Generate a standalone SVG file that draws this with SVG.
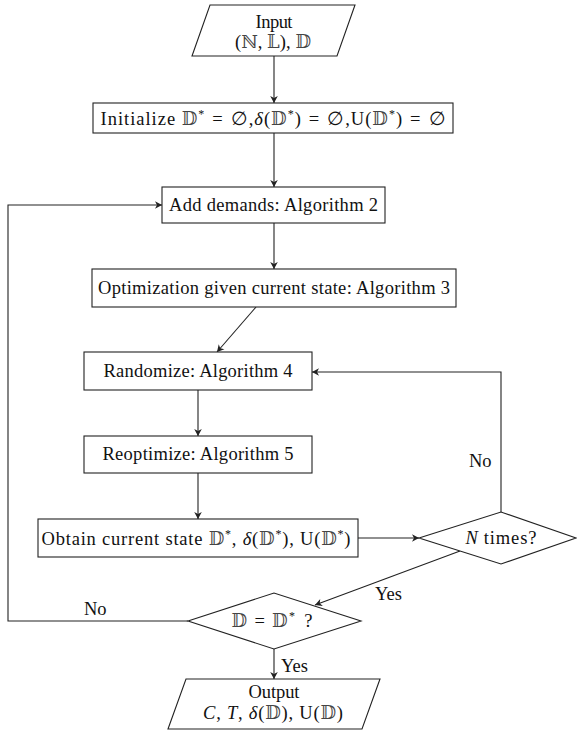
<svg xmlns="http://www.w3.org/2000/svg" width="577" height="732" viewBox="0 0 577 732">
<style>
.shape{fill:#fff;stroke:#222;stroke-width:1.1}
.conn{fill:none;stroke:#222;stroke-width:1.1}
text{font-family:"Liberation Serif","Times New Roman",serif;font-size:18.5px;fill:#111;text-anchor:middle}
.lbl{text-anchor:start}
.m{font-family:"DejaVu Serif","DejaVu Sans",serif;font-size:18px;fill:#444}
.i{font-style:italic}
.s{font-size:12px}
</style>
<defs>
<marker id="arr" viewBox="-8 -5 9 10" refX="0" refY="0" markerWidth="9" markerHeight="10" markerUnits="userSpaceOnUse" orient="auto">
<path d="M0,0 L-7,-3.8 L-5,0 L-7,3.8 Z" fill="#222"/>
</marker>
</defs>
<rect width="577" height="732" fill="#fff"/>
<g id="connectors">
<line class="conn" x1="274" y1="56" x2="274" y2="103" marker-end="url(#arr)"/>
<line class="conn" x1="274" y1="133" x2="274" y2="187" marker-end="url(#arr)"/>
<line class="conn" x1="274" y1="223" x2="274" y2="269" marker-end="url(#arr)"/>
<line class="conn" x1="256" y1="307" x2="217" y2="352" marker-end="url(#arr)"/>
<line class="conn" x1="198" y1="390" x2="198" y2="436" marker-end="url(#arr)"/>
<line class="conn" x1="198" y1="473" x2="198" y2="519" marker-end="url(#arr)"/>
<line class="conn" x1="358" y1="538" x2="419" y2="538" marker-end="url(#arr)"/>
<polyline class="conn" points="501,512 501,372 312,372" marker-end="url(#arr)"/>
<line class="conn" x1="460" y1="551" x2="315" y2="605" marker-end="url(#arr)"/>
<polyline class="conn" points="188,621 8,621 8,205 162,205" marker-end="url(#arr)"/>
<line class="conn" x1="274" y1="649" x2="274" y2="679" marker-end="url(#arr)"/>
<text class="lbl" x="469" y="467">No</text>
<text class="lbl" x="375" y="600">Yes</text>
<text class="lbl" x="84" y="615">No</text>
<text class="lbl" x="281" y="672">Yes</text>
</g>
<g id="input">
<polygon class="shape" points="210,5 355,5 337,56 192,56"/>
<text x="274" y="28" textLength="37">Input</text>
<text x="273" y="48" textLength="76">(<tspan class="m">ℕ</tspan>, <tspan class="m">𝕃</tspan>), <tspan class="m">𝔻</tspan></text>
</g>
<g id="init">
<rect class="shape" x="93" y="103" width="360" height="30"/>
<text x="273" y="125" textLength="345">Initialize <tspan class="m">𝔻</tspan><tspan class="s" dy="-7">*</tspan><tspan dy="7" dx="7">=</tspan><tspan dx="7">∅,</tspan><tspan class="i">δ</tspan>(<tspan class="m">𝔻</tspan><tspan class="s" dy="-7">*</tspan><tspan dy="7">)</tspan><tspan dx="7">=</tspan><tspan dx="7">∅,U(</tspan><tspan class="m">𝔻</tspan><tspan class="s" dy="-7">*</tspan><tspan dy="7">)</tspan><tspan dx="7">=</tspan><tspan dx="7">∅</tspan></text>
</g>
<g id="add">
<rect class="shape" x="162" y="187" width="223" height="36"/>
<text x="273.5" y="211" textLength="209">Add demands: Algorithm 2</text>
</g>
<g id="opt">
<rect class="shape" x="92" y="269" width="364" height="38"/>
<text x="274" y="294" textLength="352">Optimization given current state: Algorithm 3</text>
</g>
<g id="randomize">
<rect class="shape" x="84" y="352" width="228" height="38"/>
<text x="198" y="377" textLength="189">Randomize: Algorithm 4</text>
</g>
<g id="reoptimize">
<rect class="shape" x="84" y="436" width="228" height="37"/>
<text x="198" y="460" textLength="191">Reoptimize: Algorithm 5</text>
</g>
<g id="obtain">
<rect class="shape" x="38" y="519" width="320" height="38"/>
<text x="196" y="545" textLength="309">Obtain current state <tspan class="m">𝔻</tspan><tspan class="s" dy="-7">*</tspan><tspan dy="7">, </tspan><tspan class="i">δ</tspan>(<tspan class="m">𝔻</tspan><tspan class="s" dy="-7">*</tspan><tspan dy="7">), U(</tspan><tspan class="m">𝔻</tspan><tspan class="s" dy="-7">*</tspan><tspan dy="7">)</tspan></text>
</g>
<g id="ntimes">
<polygon class="shape" points="419,538 501,512 576,538 501,564"/>
<text x="501" y="544" textLength="71"><tspan class="i">N</tspan><tspan dx="5">times?</tspan></text>
</g>
<g id="check">
<polygon class="shape" points="188,621 274,593 361,621 274,649"/>
<text x="272" y="627" textLength="81"><tspan class="m">𝔻</tspan><tspan dx="6">=</tspan><tspan class="m" dx="6">𝔻</tspan><tspan class="s" dy="-7">*</tspan><tspan dy="7" dx="8">?</tspan></text>
</g>
<g id="output">
<polygon class="shape" points="186,679 380,679 362,729 168,729"/>
<text x="274" y="698" textLength="51">Output</text>
<text x="273" y="719" textLength="140"><tspan class="i">C</tspan>, <tspan class="i">T</tspan>, <tspan class="i">δ</tspan>(<tspan class="m">𝔻</tspan>), U(<tspan class="m">𝔻</tspan>)</text>
</g>
</svg>
